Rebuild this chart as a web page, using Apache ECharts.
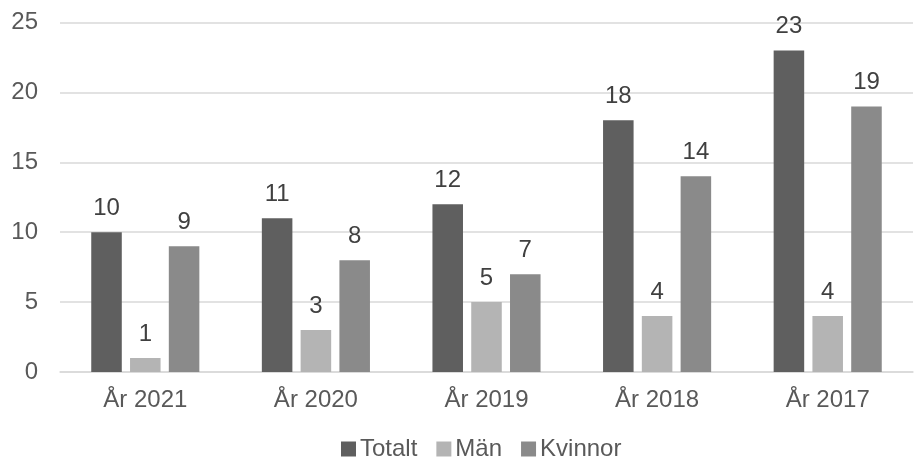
<!DOCTYPE html>
<html><head><meta charset="utf-8">
<script src="https://cdn.jsdelivr.net/npm/echarts@6/dist/echarts.min.js"></script>
<style>html,body{margin:0;padding:0;background:#fff}#c{width:915px;height:462px}</style>
</head><body><div id="c"></div>
<script>
var categories = ['År 2021','År 2020','År 2019','År 2018','År 2017'];
var totalt = [10, 11, 12, 18, 23];
var man = [1, 3, 5, 4, 4];
var kvinnor = [9, 8, 7, 14, 19];
var yTicks = [0, 5, 10, 15, 20, 25];

var font = '"Liberation Sans", Arial, sans-serif';
function s(name, data, color) {
  return {
    name: name, type: 'bar', data: data, barWidth: '17.9%', barGap: '27%',
    itemStyle: { color: color },
    label: { show: true, position: 'top', distance: 12, color: '#404040', fontSize: 24, fontFamily: font }
  };
}
var chart = echarts.init(document.getElementById('c'));
chart.setOption({
  animation: false,
  grid: { left: 60, right: 2, top: 22.5, bottom: 90, containLabel: false },
  legend: {
    top: 432, left: 336, itemWidth: 15, itemHeight: 15, itemGap: 19,
    icon: 'rect',
    textStyle: { color: '#595959', fontSize: 24, fontFamily: font, padding: [0,0,0,-1] },
    data: ['Totalt','Män','Kvinnor']
  },
  xAxis: {
    type: 'category', data: categories,
    axisLine: { lineStyle: { color: '#d9d9d9', width: 1.5 } },
    axisTick: { show: false },
    axisLabel: { color: '#595959', fontSize: 24, fontFamily: font, margin: 16 }
  },
  yAxis: {
    type: 'value', min: yTicks[0], max: yTicks[yTicks.length-1], interval: 5,
    axisLine: { show: false }, axisTick: { show: false },
    splitLine: { lineStyle: { color: '#d9d9d9', width: 1.5 } },
    axisLabel: { color: '#595959', fontSize: 24, fontFamily: font, margin: 22 }
  },
  series: [ s('Totalt', totalt, '#5f5f5f'), s('Män', man, '#b4b4b4'), s('Kvinnor', kvinnor, '#8a8a8a') ]
});
</script></body></html>
